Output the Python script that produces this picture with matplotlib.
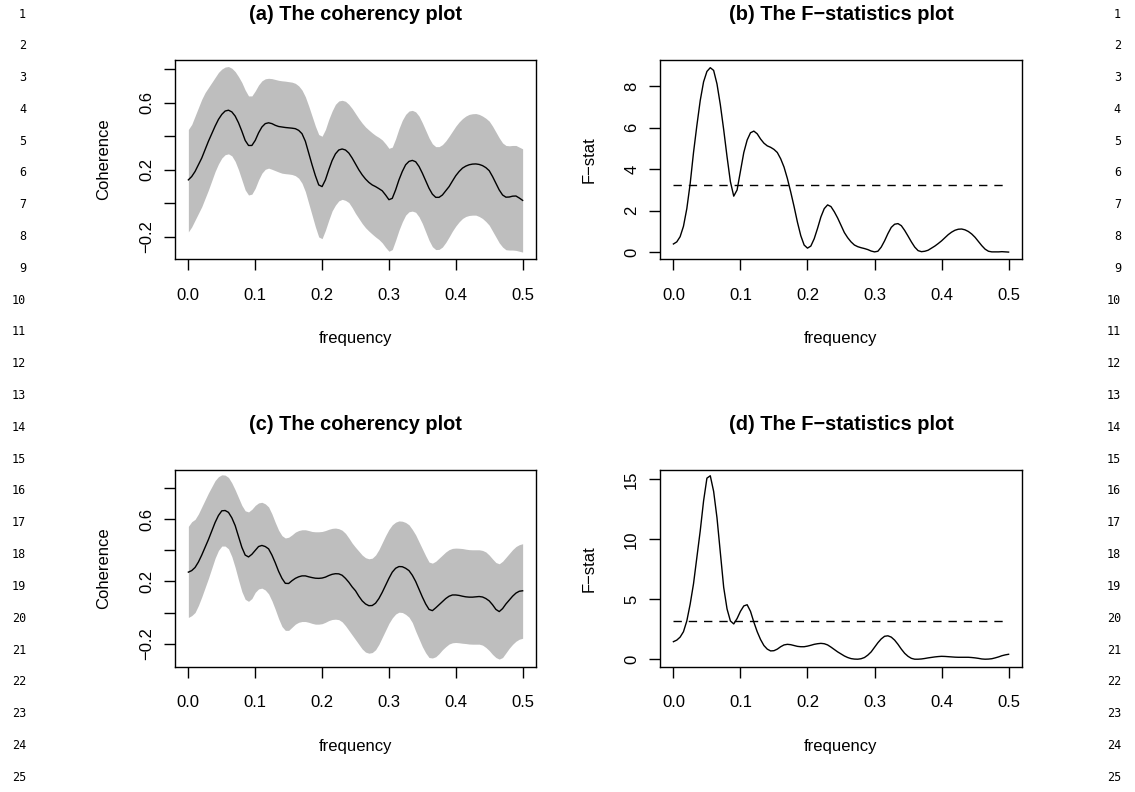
import numpy as np
import matplotlib
matplotlib.use("Agg")
import matplotlib.pyplot as plt

plt.rcParams['font.family'] = ['Liberation Sans', 'DejaVu Sans']

# ---------------- data ----------------
freq = np.arange(101) / 200.0     # frequency grid, step 0.005

coh_a_mid = [0.14, 0.16, 0.19, 0.23, 0.27, 0.32, 0.37, 0.415, 0.46, 0.50,
             0.53, 0.55, 0.555, 0.545, 0.52, 0.48, 0.43, 0.375, 0.345, 0.345,
             0.375, 0.42, 0.455, 0.475, 0.48, 0.475, 0.465, 0.458, 0.455, 0.452,
             0.45, 0.448, 0.445, 0.435, 0.415, 0.37, 0.30, 0.23, 0.165, 0.11,
             0.10, 0.14, 0.20, 0.255, 0.295, 0.318, 0.324, 0.318, 0.30, 0.27,
             0.235, 0.20, 0.17, 0.145, 0.125, 0.11, 0.10, 0.088, 0.075, 0.05,
             0.022, 0.03, 0.08, 0.14, 0.19, 0.23, 0.25, 0.256, 0.248, 0.22,
             0.18, 0.135, 0.09, 0.055, 0.036, 0.036, 0.05, 0.075, 0.10, 0.133,
             0.165, 0.19, 0.21, 0.222, 0.23, 0.234, 0.235, 0.232, 0.225, 0.213,
             0.195, 0.16, 0.12, 0.08, 0.05, 0.037, 0.038, 0.043, 0.044, 0.032,
             0.018]
coh_a_up = [0.44, 0.47, 0.52, 0.57, 0.62, 0.66, 0.69, 0.72, 0.75, 0.78,
            0.80, 0.812, 0.815, 0.805, 0.785, 0.755, 0.72, 0.675, 0.64, 0.64,
            0.67, 0.705, 0.73, 0.742, 0.745, 0.743, 0.738, 0.733, 0.73, 0.728,
            0.725, 0.722, 0.715, 0.70, 0.675, 0.635, 0.58, 0.52, 0.46, 0.41,
            0.40, 0.44, 0.50, 0.55, 0.59, 0.61, 0.614, 0.608, 0.59, 0.565,
            0.535, 0.505, 0.478, 0.455, 0.437, 0.42, 0.405, 0.393, 0.378, 0.355,
            0.328, 0.335, 0.385, 0.445, 0.495, 0.53, 0.55, 0.554, 0.545, 0.52,
            0.48, 0.435, 0.39, 0.355, 0.338, 0.338, 0.35, 0.372, 0.40, 0.43,
            0.46, 0.485, 0.505, 0.52, 0.53, 0.534, 0.535, 0.53, 0.52, 0.507,
            0.49, 0.46, 0.425, 0.39, 0.36, 0.345, 0.343, 0.345, 0.345, 0.335,
            0.325]
coh_a_lo = [-0.17, -0.14, -0.10, -0.06, -0.02, 0.03, 0.08, 0.135, 0.19, 0.235,
            0.27, 0.29, 0.295, 0.283, 0.25, 0.20, 0.14, 0.08, 0.05, 0.055,
            0.09, 0.14, 0.18, 0.203, 0.21, 0.203, 0.195, 0.187, 0.18, 0.177,
            0.175, 0.172, 0.165, 0.15, 0.12, 0.07, 0.0, -0.07, -0.14, -0.20,
            -0.21, -0.16, -0.10, -0.045, -0.01, 0.015, 0.024, 0.018, 0.005, -0.025,
            -0.06, -0.09, -0.12, -0.145, -0.165, -0.183, -0.20, -0.215, -0.235, -0.262,
            -0.285, -0.275, -0.22, -0.16, -0.11, -0.07, -0.05, -0.046, -0.053, -0.08,
            -0.12, -0.17, -0.22, -0.258, -0.275, -0.274, -0.26, -0.233, -0.20, -0.165,
            -0.135, -0.11, -0.09, -0.078, -0.072, -0.07, -0.07, -0.078, -0.09, -0.108,
            -0.13, -0.165, -0.20, -0.235, -0.26, -0.276, -0.278, -0.278, -0.28, -0.285,
            -0.29]

fstat_b = [0.40, 0.50, 0.75, 1.25, 2.1, 3.3, 4.8, 6.1, 7.3, 8.2,
           8.7, 8.88, 8.75, 8.1, 7.1, 5.9, 4.6, 3.4, 2.7, 3.0,
           3.9, 4.8, 5.4, 5.75, 5.83, 5.7, 5.45, 5.25, 5.12, 5.05,
           4.95, 4.8, 4.5, 4.1, 3.55, 2.9, 2.2, 1.45, 0.8, 0.35,
           0.2, 0.3, 0.65, 1.15, 1.7, 2.1, 2.28, 2.2, 1.95, 1.65,
           1.3, 0.95, 0.7, 0.5, 0.35, 0.27, 0.22, 0.18, 0.13, 0.06,
           0.02, 0.05, 0.25, 0.55, 0.9, 1.2, 1.35, 1.38, 1.28, 1.05,
           0.78, 0.5, 0.25, 0.08, 0.03, 0.05, 0.1, 0.2, 0.3, 0.42,
           0.55, 0.7, 0.85, 0.97, 1.06, 1.11, 1.12, 1.08, 1.0, 0.88,
           0.72, 0.52, 0.32, 0.15, 0.05, 0.02, 0.02, 0.02, 0.03, 0.02,
           0.01]

coh_c_mid = [0.26, 0.27, 0.29, 0.325, 0.37, 0.42, 0.47, 0.525, 0.58, 0.625,
             0.655, 0.657, 0.645, 0.61, 0.56, 0.49, 0.42, 0.37, 0.358, 0.375,
             0.40, 0.425, 0.432, 0.425, 0.41, 0.37, 0.32, 0.265, 0.22, 0.188,
             0.187, 0.205, 0.22, 0.23, 0.236, 0.236, 0.23, 0.225, 0.221, 0.22,
             0.222, 0.228, 0.238, 0.246, 0.25, 0.249, 0.24, 0.22, 0.195, 0.165,
             0.14, 0.105, 0.075, 0.055, 0.044, 0.045, 0.06, 0.09, 0.13, 0.175,
             0.22, 0.26, 0.285, 0.296, 0.295, 0.285, 0.27, 0.24, 0.20, 0.15,
             0.10, 0.055, 0.02, 0.012, 0.03, 0.05, 0.07, 0.09, 0.105, 0.113,
             0.113, 0.11, 0.105, 0.101, 0.099, 0.099, 0.101, 0.103, 0.10, 0.09,
             0.075, 0.05, 0.02, 0.006, 0.025, 0.055, 0.08, 0.105, 0.125, 0.137,
             0.14]
coh_c_up = [0.555, 0.585, 0.60, 0.635, 0.68, 0.725, 0.77, 0.81, 0.85, 0.875,
            0.887, 0.885, 0.87, 0.835, 0.79, 0.74, 0.69, 0.655, 0.648, 0.665,
            0.69, 0.706, 0.71, 0.70, 0.68, 0.635, 0.58, 0.53, 0.495, 0.48,
            0.485, 0.50, 0.518, 0.528, 0.533, 0.533, 0.528, 0.522, 0.52, 0.52,
            0.522, 0.528, 0.536, 0.542, 0.544, 0.54, 0.53, 0.51, 0.48, 0.447,
            0.42, 0.395, 0.37, 0.353, 0.346, 0.35, 0.37, 0.405, 0.45, 0.495,
            0.535, 0.565, 0.582, 0.59, 0.588, 0.58, 0.565, 0.535, 0.50, 0.455,
            0.41, 0.365, 0.325, 0.318, 0.33, 0.35, 0.37, 0.39, 0.405, 0.413,
            0.415, 0.414, 0.412, 0.408, 0.405, 0.404, 0.404, 0.404, 0.40, 0.39,
            0.37, 0.345, 0.322, 0.314, 0.33, 0.355, 0.38, 0.405, 0.425, 0.437,
            0.443]
coh_c_lo = [-0.032, -0.02, 0.0, 0.045, 0.10, 0.16, 0.22, 0.285, 0.35, 0.40,
            0.428, 0.428, 0.41, 0.36, 0.29, 0.21, 0.135, 0.085, 0.072, 0.09,
            0.13, 0.152, 0.157, 0.145, 0.12, 0.075, 0.02, -0.04, -0.09, -0.115,
            -0.115, -0.095, -0.075, -0.063, -0.058, -0.058, -0.063, -0.07, -0.075, -0.075,
            -0.072, -0.063, -0.052, -0.045, -0.043, -0.046, -0.06, -0.085, -0.115, -0.145,
            -0.175, -0.205, -0.235, -0.255, -0.262, -0.258, -0.24, -0.205, -0.16, -0.115,
            -0.07, -0.035, -0.01, 0.002, 0.0, -0.012, -0.03, -0.065, -0.12, -0.17,
            -0.22, -0.26, -0.29, -0.293, -0.285, -0.265, -0.24, -0.22, -0.203, -0.195,
            -0.193, -0.195, -0.198, -0.20, -0.203, -0.204, -0.204, -0.204, -0.21, -0.225,
            -0.245, -0.27, -0.29, -0.30, -0.29, -0.26, -0.23, -0.205, -0.185, -0.172,
            -0.166]

fstat_d = [1.47, 1.6, 1.85, 2.3, 3.2, 4.6, 6.3, 8.5, 10.7, 13.2,
           15.1, 15.3, 14.0, 11.8, 8.9, 6.0, 4.2, 3.2, 2.95, 3.4,
           4.0, 4.45, 4.55, 4.0, 3.1, 2.3, 1.65, 1.15, 0.85, 0.7,
           0.72, 0.85, 1.05, 1.2, 1.25, 1.22, 1.15, 1.08, 1.05, 1.05,
           1.1, 1.17, 1.25, 1.3, 1.33, 1.3, 1.2, 1.02, 0.82, 0.62,
           0.45, 0.28, 0.15, 0.06, 0.02, 0.01, 0.05, 0.15, 0.35, 0.62,
           1.0, 1.38, 1.7, 1.92, 1.96, 1.85, 1.6, 1.25, 0.85, 0.5,
           0.25, 0.08, 0.01, 0.01, 0.03, 0.07, 0.12, 0.16, 0.2, 0.23,
           0.25, 0.24, 0.22, 0.2, 0.18, 0.17, 0.17, 0.17, 0.17, 0.15,
           0.12, 0.08, 0.03, 0.01, 0.02, 0.05, 0.12, 0.2, 0.3, 0.37,
           0.42]

f_threshold = 3.23

titles = ["(a) The coherency plot", "(b) The F\u2212statistics plot",
          "(c) The coherency plot", "(d) The F\u2212statistics plot"]
xlabel = "frequency"
ylabel_coh = "Coherence"
ylabel_f = "F\u2212stat"

xticks = [0.0, 0.1, 0.2, 0.3, 0.4, 0.5]
xticklabels = ["0.0", "0.1", "0.2", "0.3", "0.4", "0.5"]
coh_yticks = [-0.2, 0.0, 0.2, 0.4, 0.6, 0.8]
coh_yticklabels = ["\u22120.2", "", "0.2", "", "0.6", ""]
fb_yticks = [0, 2, 4, 6, 8]
fb_yticklabels = ["0", "2", "4", "6", "8"]
fd_yticks = [0, 5, 10, 15]
fd_yticklabels = ["0", "5", "10", "15"]

line_numbers = list(range(1, 26))

# ---------------- figure ----------------
W, H = 1135, 792
fig = plt.figure(figsize=(W / 100, H / 100), dpi=100)
fig.patch.set_facecolor("white")


def make_ax(x0, y0, x1, y1):
    return fig.add_axes([x0 / W, 1 - y1 / H, (x1 - x0) / W, (y1 - y0) / H])


def style(ax, title, ylabel, yticks, yticklabels, ylim):
    ax.set_xlim(-0.02, 0.52)
    ax.set_ylim(*ylim)
    for s in ax.spines.values():
        s.set_linewidth(1.0)
        s.set_color("black")
    ax.set_xticks(xticks)
    ax.set_xticklabels(xticklabels)
    ax.set_yticks(yticks)
    ax.set_yticklabels(yticklabels)
    ax.tick_params(axis="both", direction="out", length=8, width=1.0,
                   labelsize=12, colors="black")
    ax.tick_params(axis="x", pad=12.5)
    ax.tick_params(axis="y", pad=7, labelrotation=90)
    for lab in ax.get_yticklabels():
        lab.set_va("center")
    bbox = ax.get_position()
    hpx = bbox.height * H
    wpx = bbox.width * W
    ax.text(0.5, 1 + 46 / hpx, title, transform=ax.transAxes, ha="center",
            va="center", fontsize=14.4, fontweight="bold")
    ax.set_xlabel(xlabel, fontsize=12, va="center")
    ax.xaxis.set_label_coords(0.5, -79 / hpx)
    ax.set_ylabel(ylabel, fontsize=12, va="center")
    ax.yaxis.set_label_coords(-71 / wpx, 0.5)


ax_a = make_ax(175, 60, 536, 259.3)
ax_b = make_ax(660, 60, 1022, 259.3)
ax_c = make_ax(175, 470, 536, 667)
ax_d = make_ax(660, 470, 1022, 667)

grey = "#BEBEBE"

ax_a.fill_between(freq, coh_a_lo, coh_a_up, color=grey, linewidth=0)
ax_a.plot(freq, coh_a_mid, color="black", linewidth=1.0)
style(ax_a, titles[0], ylabel_coh, coh_yticks, coh_yticklabels, (-0.333, 0.854))

ax_b.plot(freq, fstat_b, color="black", linewidth=1.0)
ax_b.plot([freq[0], freq[-1]], [f_threshold, f_threshold], color="black",
          linewidth=1.0, linestyle=(0, (6, 5)))
style(ax_b, titles[1], ylabel_f, fb_yticks, fb_yticklabels, (-0.337, 9.25))

ax_c.fill_between(freq, coh_c_lo, coh_c_up, color=grey, linewidth=0)
ax_c.plot(freq, coh_c_mid, color="black", linewidth=1.0)
style(ax_c, titles[2], ylabel_coh, coh_yticks, coh_yticklabels, (-0.351, 0.918))

ax_d.plot(freq, fstat_d, color="black", linewidth=1.0)
ax_d.plot([freq[0], freq[-1]], [f_threshold, f_threshold], color="black",
          linewidth=1.0, linestyle=(0, (6, 5)))
style(ax_d, titles[3], ylabel_f, fd_yticks, fd_yticklabels, (-0.64, 15.78))

# line numbers in both margins
for n in line_numbers:
    y = 1 - (14 + (n - 1) * 31.8) / H
    fig.text(26 / W, y, str(n), ha="right", va="center", fontsize=8.5,
             family="DejaVu Sans Mono")
    fig.text(1121 / W, y, str(n), ha="right", va="center", fontsize=8.5,
             family="DejaVu Sans Mono")

fig.savefig("out.png", dpi=100, facecolor="white")
